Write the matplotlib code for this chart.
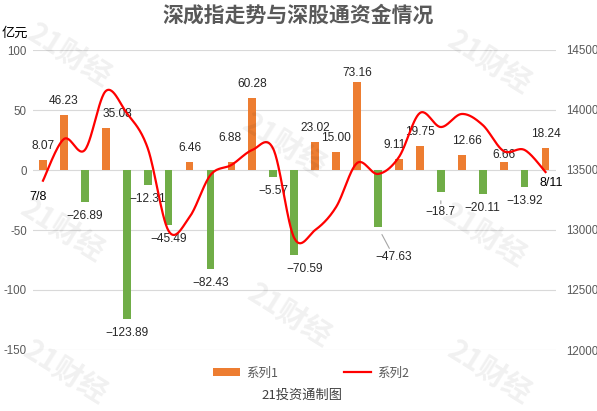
import numpy as np
import matplotlib
matplotlib.use("Agg")
import matplotlib.pyplot as plt
from matplotlib.patches import Patch
from matplotlib.lines import Line2D

# ---- data ----
categories = list(range(1, 26))
flow = [8.07, 46.23, -26.89, 35.08, -123.89, -12.31, -45.49, 6.46, -82.43, 6.88,
        60.28, -5.57, -70.59, 23.02, 15.00, 73.16, -47.63, 9.11, 19.75, -18.7,
        12.66, -20.11, 6.66, -13.92, 18.24]
flow_labels = ["8.07", "46.23", "−26.89", "35.08", "−123.89", "−12.31", "−45.49", "6.46",
               "−82.43", "6.88", "60.28", "−5.57", "−70.59", "23.02", "15.00", "73.16",
               "−47.63", "9.11", "19.75", "−18.7", "12.66", "−20.11", "6.66", "−13.92", "18.24"]
index_vals = [13411, 13758, 13667, 14158, 13975, 13683, 12992, 13108, 13458, 13542,
              13667, 13675, 12933, 13000, 13192, 13558, 13467, 13608, 13975, 13858,
              13967, 13875, 13658, 13667, 13483]
left_ticks = [-150, -100, -50, 0, 50, 100]
right_ticks = [12000, 12500, 13000, 13500, 14000, 14500]
start_label, end_label = "7/8", "8/11"
series_names = ["系列1", "系列2"]
title = "深成指走势与深股通资金情况"
unit = "亿元"
footer = "21投资通制图"
watermark = "21财经"

# ---- styles ----
ORANGE = "#ED7D31"
GREEN = "#70AD47"
RED = "#FF0000"
GRAY = "#595959"
LAT = ["Liberation Sans", "DejaVu Sans"]
CJK = ["Noto Sans CJK SC", "DejaVu Sans"]

W, H = 597, 411
fig = plt.figure(figsize=(W / 100, H / 100), dpi=100)

# faint watermarks
for (wx, wy) in [(70, 55), (490, 62), (285, 145), (63, 230), (485, 235),
                 (290, 315), (66, 372), (490, 372)]:
    fig.text(wx / W, 1 - wy / H, watermark, fontsize=21, fontweight="bold",
             family=CJK, color="#000000", alpha=0.06, rotation=-32,
             ha="center", va="center", zorder=0)

ax = fig.add_axes([32.5 / W, 1 - 350 / H, (556 - 32.5) / W, 300 / H])
ax.set_facecolor("none")
ax2 = ax.twinx()

x = np.arange(len(categories))
colors = [ORANGE if v >= 0 else GREEN for v in flow]
ax.bar(x, flow, width=0.37, color=colors, zorder=2)
ax.set_ylim(-150, 100)
ax.set_xlim(-0.5, len(categories) - 0.5)
ax.set_yticks(left_ticks)
ax.set_yticklabels([str(t) for t in left_ticks])
ax.set_xticks([])
ax.grid(axis="y", color="#d9d9d9", linewidth=0.8, zorder=0)
ax.set_axisbelow(True)
for sp in list(ax.spines.values()) + list(ax2.spines.values()):
    sp.set_visible(False)
ax.tick_params(axis="y", length=0, pad=4, labelcolor=GRAY, labelsize=8.3)
for lab in ax.get_yticklabels():
    lab.set_family(LAT)

# smoothed line (Bezier smoothing like a spreadsheet "smoothed line")
P = np.column_stack([x, np.array(index_vals, dtype=float)])
Pe = np.vstack([P[0], P, P[-1]])
xs, ys = [], []
t = np.linspace(0, 1, 30)
for i in range(len(P) - 1):
    p0, p1, p2, p3 = Pe[i], Pe[i + 1], Pe[i + 2], Pe[i + 3]
    c1 = p1 + (p2 - p0) / 6
    c2 = p2 - (p3 - p1) / 6
    B = ((1 - t) ** 3)[:, None] * p1 + (3 * (1 - t) ** 2 * t)[:, None] * c1 + \
        (3 * (1 - t) * t ** 2)[:, None] * c2 + (t ** 3)[:, None] * p2
    xs.extend(B[:, 0]); ys.extend(B[:, 1])
ax2.plot(xs, ys, color=RED, linewidth=1.6, zorder=3)
ax2.set_ylim(12000, 14500)
ax2.set_yticks(right_ticks)
ax2.set_yticklabels([str(t) for t in right_ticks])
ax2.tick_params(axis="y", length=0, pad=7, labelcolor=GRAY, labelsize=8.3)
for lab in ax2.get_yticklabels():
    lab.set_family(LAT)

# bar value labels (pixel offsets)
adjust = {3: (12, 0), 9: (-1, 10), 15: (0, -5), 20: (5, 0), 22: (0, -7),
          12: (10, 0), 17: (-4, 0)}
leader = {16: (16, -30), 19: (0, -20)}
for i, (v, s) in enumerate(zip(flow, flow_labels)):
    if i in leader:
        ax.annotate(s, (x[i], v), textcoords="offset pixels",
                    xytext=leader[i], ha="center", va="center", fontsize=8.6,
                    family=LAT, color="#262626", zorder=5,
                    arrowprops=dict(arrowstyle="-", color="#a6a6a6", lw=0.8,
                                    shrinkA=0, shrinkB=6))
        continue
    dx, dy = adjust.get(i, (0, 0))
    base = 14 if v >= 0 else -14
    ax.annotate(s, (x[i], v), textcoords="offset pixels",
                xytext=(dx, base + dy), ha="center", va="center",
                fontsize=8.6, family=LAT, color="#262626", zorder=5,
                annotation_clip=False)

# line endpoint labels
ax2.annotate(start_label, (x[0], index_vals[0]), textcoords="offset pixels",
             xytext=(-5, -16), ha="center", va="center", fontsize=9,
             family=LAT, color="#000000")
ax2.annotate(end_label, (x[-1], index_vals[-1]), textcoords="offset pixels",
             xytext=(6, -11), ha="center", va="center", fontsize=9,
             family=LAT, color="#000000")

# title, unit, footer
fig.text(0.5, 1 - 15 / H, title, ha="center", va="center", fontsize=15,
         fontweight="bold", family=CJK, color=GRAY)
fig.text(2 / W, 1 - 33 / H, unit, ha="left", va="center", fontsize=9.5,
         family=CJK, color="#000000")
fig.text(302 / W, 1 - 395 / H, footer, ha="center", va="center", fontsize=9.5,
         family=CJK, color="#404040")

handles = [Patch(facecolor=ORANGE, edgecolor="none"),
           Line2D([0], [0], color=RED, lw=1.6)]
leg = fig.legend(handles, series_names, loc="center", bbox_to_anchor=(311 / W, 1 - 373 / H),
                 ncol=2, frameon=False, prop={"family": CJK, "size": 9},
                 handlelength=2.2, handleheight=0.6, columnspacing=5.2, handletextpad=0.5)
for t_ in leg.get_texts():
    t_.set_color(GRAY)

fig.savefig("out.png", dpi=100)
